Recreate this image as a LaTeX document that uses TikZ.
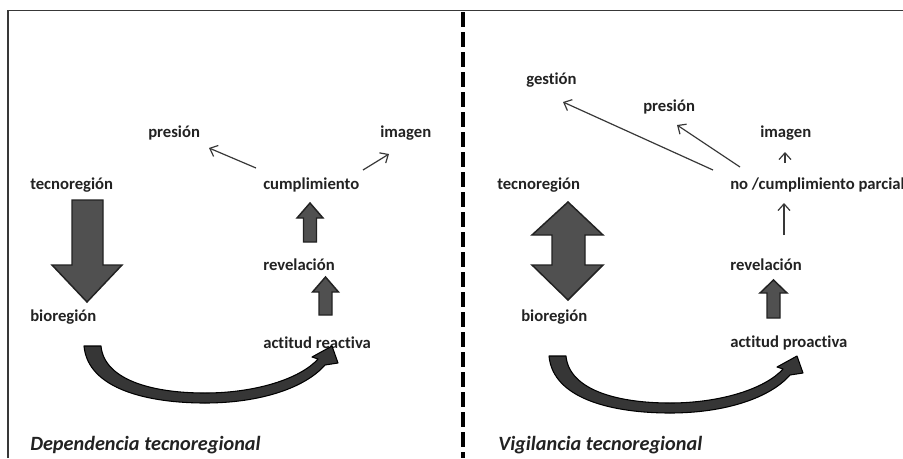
\documentclass[tikz,border=0pt]{standalone}
\usepackage{fontspec}
\setmainfont{Carlito}[Ligatures={NoCommon}]
\usetikzlibrary{arrows.meta}
\definecolor{ink}{HTML}{222222}
\definecolor{blockfill}{HTML}{505050}
\definecolor{curvefill}{HTML}{363636}
\tikzset{
  lbl/.style={anchor=west, inner sep=0pt, text=ink, font=\fontsize{12.5}{14}\selectfont\bfseries},
  ttl/.style={anchor=west, inner sep=0pt, text=ink, font=\fontsize{15.2}{18}\selectfont\bfseries\itshape},
  thinarrow/.style={draw=ink!90, line width=0.9pt, -{Straight Barb[length=5pt,width=9pt]}},
  blockarrow/.style={fill=blockfill, draw=ink, line width=1.1pt, line join=miter},
  pics/crescent/.style={code={
    \fill[curvefill, draw=black, line width=0.8pt, line join=round]
      (0,0) .. controls (4,44) and (66,57) .. (121,57)
      .. controls (176,57) and (221,42) .. (241,19)
      -- (254,17) -- (248,0) -- (228,11) -- (234,13)
      .. controls (216,33) and (171,47) .. (121,47)
      .. controls (66,47) and (20,33) .. (17,0) -- cycle;
  }}
}
\begin{document}
\begin{tikzpicture}[x=0.75pt, y=-0.75pt]
\useasboundingbox (0,0) rectangle (903,458);
% frame
\draw[ink!90, line width=1.1pt] (8,458) -- (8,10.5) -- (903,10.5);
% separator
\draw[black, line width=3.6pt, dash pattern=on 11pt off 4pt] (463,12) -- (463,458);

% ---------- left panel ----------
\node[lbl] (pres1) at (148,133) {presión};
\node[lbl] (img1) at (380,133) {imagen};
\node[lbl] (tec1) at (30,185) {tecnoregión};
\node[lbl] (cump1) at (263,185) {cumplimiento};
\node[lbl] (rev1) at (263,265) {revelación};
\node[lbl] (bio1) at (30,317) {bioregión};
\node[lbl] (act1) at (263,343) {actitud reactiva};
\node[ttl] (ttl1) at (30,445) {Dependencia tecnoregional};

\draw[thinarrow] ([shift={(-7,-17)}]cump1.west) -- ([shift={(61,15)}]pres1.west);
\draw[thinarrow] ([shift={(100,-15)}]cump1.west) -- ([shift={(9,21)}]img1.west);

% big down arrow
\draw[blockarrow] (72,200) -- (103,200) -- (103,265) -- (122,265) -- (87,302)
  -- (52,265) -- (72,265) -- cycle;
% up arrows
\draw[blockarrow] (303.5,242) -- (303.5,218) -- (297,218) -- (310,203) -- (323,218)
  -- (316.5,218) -- (316.5,242) -- cycle;
\draw[blockarrow] (319,315) -- (319,292) -- (312.5,292) -- (325.5,277) -- (338.5,292)
  -- (332,292) -- (332,315) -- cycle;
% curved arrow
\pic at (84,346) {crescent};

% ---------- right panel ----------
\node[lbl] (gest2) at (526,80) {gestión};
\node[lbl] (pres2) at (643,107) {presión};
\node[lbl] (img2) at (760,133) {imagen};
\node[lbl] (tec2) at (497,185) {tecnoregión};
\node[lbl] (ncump2) at (730,185) {no /cumplimiento parcial};
\node[lbl] (rev2) at (730,265) {revelación};
\node[lbl] (bio2) at (521,317) {bioregión};
\node[lbl] (act2) at (730,343) {actitud proactiva};
\node[ttl] (ttl2) at (498,445) {Vigilancia tecnoregional};

\draw[thinarrow] ([shift={(-17,-15)}]ncump2.west) -- ([shift={(37,22)}]gest2.west);
\draw[thinarrow] ([shift={(10,-18)}]ncump2.west) -- ([shift={(34,18)}]pres2.west);
\draw[thinarrow] ([shift={(55,-22)}]ncump2.west) -- ([shift={(25,19)}]img2.west);
\draw[thinarrow] ([shift={(54,-30)}]rev2.west) -- ([shift={(54,18)}]ncump2.west);

% double arrow
\draw[blockarrow] (568,202) -- (603,235) -- (585,235) -- (585,265) -- (603,265)
  -- (568,300) -- (532,265) -- (552,265) -- (552,235) -- (532,235) -- cycle;
% up arrow
\draw[blockarrow] (767,318) -- (767,293) -- (760,293) -- (773.5,280) -- (787,293)
  -- (780,293) -- (780,318) -- cycle;
% curved arrow
\pic at (549,356) {crescent};
\end{tikzpicture}
\end{document}
